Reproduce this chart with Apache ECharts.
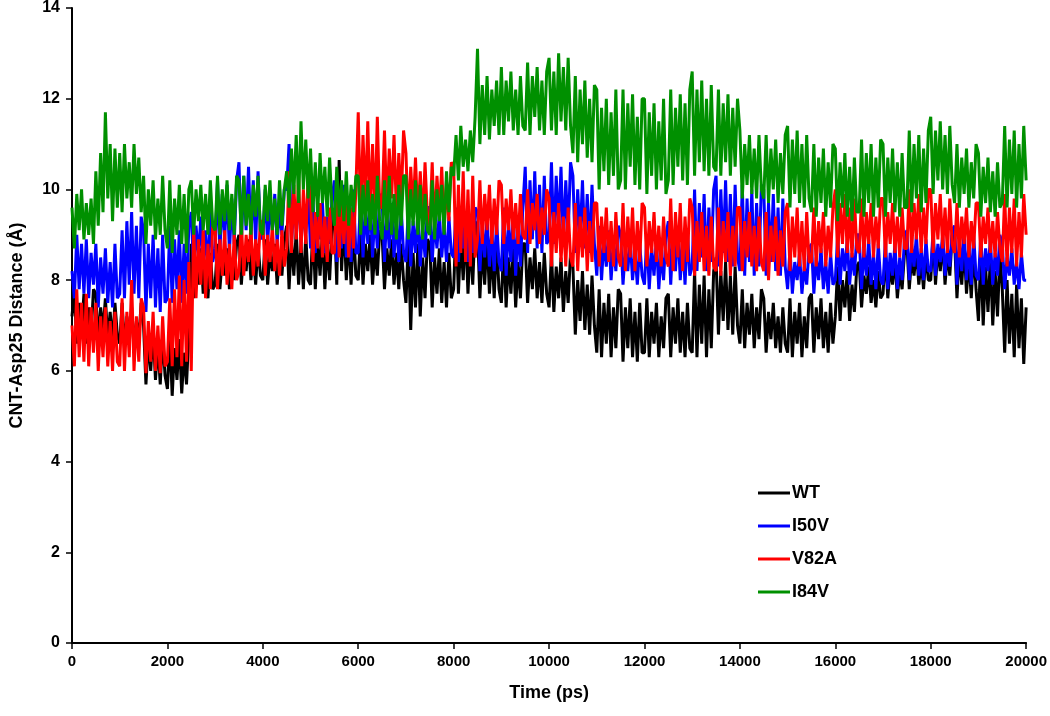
<!DOCTYPE html>
<html>
<head>
<meta charset="utf-8">
<script src="https://cdn.jsdelivr.net/npm/echarts@6/dist/echarts.min.js"></script>
<style>html,body{margin:0;padding:0;background:#fff}#c{width:1050px;height:716px}</style>
</head>
<body>
<div id="c"></div>
<script>
// time step of samples (ps)
const timeStep = 50;
const xTicks = [0,2000,4000,6000,8000,10000,12000,14000,16000,18000,20000];
const yTicks = [0,2,4,6,8,10,12,14];
const seriesNames = ["WT","I50V","V82A","I84V"];

const WT = [
7.2,7.8,6.6,7.5,6.9,7.7,6.6,7.4,6.8,7.8, 7.7,6.6,7.4,6.9,7.6,6.7,7.3,6.6,7.5,6.8,
6.6,7.5,6.5,7.2,6.8,7.4,6.5,7.1,6.7,7.5, 7.0,5.7,6.7,6.0,6.9,5.8,6.6,5.7,6.8,5.9,
5.6,6.8,5.45,6.5,5.8,6.7,5.5,6.4,5.7,6.8, 8.8,7.6,8.5,7.9,8.7,7.7,8.4,7.6,8.6,7.8,
7.9,8.8,7.8,8.5,8.1,8.7,7.8,8.4,8.0,8.8, 9.0,7.9,8.7,8.2,8.9,8.0,8.6,7.9,8.8,8.1,
8.0,8.9,7.9,8.6,8.2,8.8,7.9,8.5,8.1,8.9, 9.2,7.8,8.9,8.1,9.1,7.9,8.8,7.8,9.0,8.0,
7.9,9.2,7.8,8.9,8.1,9.1,7.8,8.8,8.0,9.2, 9.4,7.9,10.65,8.2,9.3,8.0,9.0,7.9,9.2,8.1,
8.0,9.1,7.9,8.8,8.2,9.0,7.9,8.7,8.1,9.1, 9.0,7.8,8.7,8.1,8.9,7.9,8.6,7.8,8.8,8.0,
7.5,8.9,6.9,8.6,7.4,8.8,7.2,8.5,7.6,8.9, 8.8,7.4,8.5,7.7,8.7,7.5,8.4,7.4,8.6,7.6,
7.8,9.3,7.7,9.0,8.0,9.2,7.7,8.9,7.9,9.3, 9.1,7.6,8.8,7.9,9.0,7.7,8.7,7.6,8.9,7.8,
7.5,8.8,7.4,8.5,7.7,8.7,7.4,8.4,7.6,8.8, 8.8,7.5,8.5,7.8,8.7,7.6,8.4,7.5,8.6,7.7,
7.4,8.6,7.3,8.3,7.6,8.5,7.3,8.2,7.5,8.6, 8.3,6.8,8.0,7.1,8.2,6.9,7.9,6.8,8.1,7.0,
6.4,7.8,6.3,7.5,6.6,7.7,6.3,7.4,6.5,7.8, 7.7,6.2,7.4,6.5,7.6,6.3,7.3,6.2,7.5,6.4,
6.4,7.6,6.3,7.3,6.6,7.5,6.3,7.2,6.5,7.6, 7.7,6.3,7.4,6.6,7.6,6.4,7.3,6.3,7.5,6.5,
6.4,8.2,6.3,7.9,6.6,8.1,6.3,7.8,6.5,8.2, 8.5,6.8,8.2,7.1,8.4,6.9,8.1,6.8,8.3,7.0,
6.6,7.8,6.5,7.5,6.8,7.7,6.5,7.4,6.7,7.8, 7.6,6.4,7.3,6.7,7.5,6.5,7.2,6.4,7.4,6.6,
6.4,7.6,6.3,7.3,6.6,7.5,6.3,7.2,6.5,7.6, 7.7,6.4,7.4,6.7,7.6,6.5,7.3,6.4,7.5,6.6,
7.2,8.3,7.1,8.0,7.4,8.2,7.1,7.9,7.3,8.3, 8.4,7.4,8.1,7.7,8.3,7.5,8.0,7.4,8.2,7.6,
7.7,8.6,7.6,8.3,7.9,8.5,7.6,8.2,7.8,8.6, 8.8,7.8,8.5,8.1,8.7,7.9,8.4,7.8,8.6,8.0,
8.0,9.0,7.9,8.7,8.2,8.9,7.9,8.6,8.1,9.0, 8.9,7.6,8.6,7.9,8.8,7.7,8.5,7.6,8.7,7.8,
7.1,8.6,7.0,8.3,7.3,8.5,7.0,8.2,7.2,8.6, 7.8,6.4,8.0,6.6,7.7,6.3,7.9,6.5,7.6,6.15,
7.4];

const I50V = [
8.2,7.6,9.0,7.8,8.8,7.7,8.9,7.6,8.6,7.9, 8.8,7.4,8.5,7.7,8.7,7.5,8.4,7.4,8.8,7.6,
7.7,9.1,7.6,9.3,7.9,9.5,7.7,9.2,7.6,9.4, 9.1,7.3,8.8,7.6,9.0,7.4,8.7,7.3,9.0,7.5,
7.6,9.2,7.5,8.9,7.8,9.1,7.5,8.8,7.7,9.2, 9.5,8.2,9.2,8.5,9.4,8.3,9.1,8.2,9.5,8.4,
8.7,10.2,8.6,9.9,8.9,10.1,8.6,9.8,8.8,10.2, 10.6,8.8,10.3,9.1,10.5,8.9,10.2,8.8,10.4,9.0,
8.9,10.0,8.8,9.7,9.1,9.9,8.8,9.6,9.0,10.0, 10.0,11.0,8.8,9.7,9.1,9.9,8.8,9.6,9.0,10.0,
8.7,9.8,8.6,9.5,8.9,9.7,8.6,9.4,8.8,9.8, 10.2,8.4,9.9,8.7,10.1,8.5,9.8,8.4,10.0,8.6,
8.6,9.9,8.5,9.6,8.8,9.8,8.5,9.5,8.7,9.9, 9.8,8.4,9.5,8.7,9.7,8.5,9.4,8.4,9.6,8.6,
8.4,9.6,8.3,9.3,8.6,9.5,8.3,9.2,8.5,9.6, 9.6,8.4,9.3,8.7,9.5,8.5,9.2,8.4,9.4,8.6,
8.5,9.6,8.4,9.3,8.7,9.5,8.4,9.2,8.6,9.6, 9.5,8.2,9.2,8.5,9.4,8.3,9.1,8.2,9.3,8.4,
8.2,9.6,8.1,9.3,8.4,9.5,8.1,9.2,8.3,9.6, 10.5,8.6,10.2,8.9,10.4,8.7,10.1,8.6,10.3,8.8,
8.9,10.6,8.8,10.3,9.1,10.5,8.8,10.2,9.0,10.6, 10.3,8.6,10.0,8.9,10.2,8.7,9.9,8.6,10.1,8.8,
8.1,9.2,8.0,8.9,8.3,9.1,8.0,8.8,8.2,9.2, 9.0,7.9,8.7,8.2,8.9,8.0,8.6,7.9,8.8,8.1,
7.9,9.0,7.8,8.7,8.1,8.9,7.8,8.6,8.0,9.0, 9.3,7.9,9.0,8.2,9.2,8.0,8.9,7.9,9.1,8.1,
8.3,10.0,8.2,9.7,8.5,9.9,8.2,9.6,8.4,10.0, 10.3,8.3,10.0,8.6,10.2,8.4,9.9,8.3,10.1,8.5,
8.2,10.1,8.1,9.8,8.4,10.0,8.1,9.7,8.3,10.1, 10.0,8.1,9.7,8.4,9.9,8.2,9.6,8.1,9.8,8.3,
7.8,8.7,7.7,8.4,8.0,8.6,7.7,8.3,7.9,8.7, 8.8,7.7,8.5,8.0,8.7,7.8,8.4,7.7,8.6,7.9,
8.0,9.0,7.9,8.7,8.2,8.9,7.9,8.6,8.1,9.0, 9.0,7.8,8.7,8.1,8.9,7.9,8.6,7.8,8.8,8.0,
7.9,8.9,7.8,8.6,8.1,8.8,7.8,8.5,8.0,8.9, 9.1,8.0,8.8,8.3,9.0,8.1,8.7,8.0,8.9,8.2,
8.2,9.1,8.1,8.8,8.4,9.0,8.1,8.7,8.3,9.1, 9.2,7.9,8.9,8.2,9.1,8.0,8.8,7.9,9.0,8.1,
8.0,9.0,7.9,8.7,8.2,8.9,7.9,8.6,8.1,9.0, 8.8,7.8,8.5,8.1,8.7,7.9,8.4,7.8,8.6,8.0,
8.0];

const V82A = [
7.0,6.1,7.8,6.3,7.5,6.2,7.7,6.1,7.4,6.4, 7.5,6.0,7.2,6.3,7.4,6.1,7.1,6.0,7.3,6.2,
6.1,7.6,6.0,7.3,6.3,8.0,6.0,7.2,6.2,7.6, 7.4,5.95,7.1,6.2,7.3,6.0,7.0,5.95,7.2,6.1,
6.2,7.6,6.1,7.8,6.3,8.1,6.1,8.0,6.2,8.4, 6.0,9.2,7.6,8.9,7.9,9.1,7.6,8.8,7.8,9.2,
9.2,7.8,8.9,8.1,9.1,7.9,8.8,7.8,9.0,8.0, 8.2,9.3,8.1,9.0,8.4,9.2,8.1,8.9,8.3,9.3,
9.3,8.1,9.0,8.4,9.2,8.2,8.9,8.1,9.1,8.3, 8.7,10.4,8.6,10.1,8.9,10.3,8.6,10.0,8.8,10.4,
9.8,8.4,9.5,8.7,9.7,8.5,9.4,8.4,9.6,8.6, 8.6,10.0,8.5,9.7,8.8,9.9,8.5,9.6,8.7,10.0,
11.7,9.4,11.2,9.7,11.5,9.5,11.0,9.4,11.6,9.6, 9.6,11.3,9.5,10.9,9.8,11.2,9.5,10.8,9.7,11.3,
10.8,9.2,10.5,9.5,10.7,9.3,10.4,9.2,10.6,9.4, 9.2,10.6,9.1,10.3,9.4,10.5,9.1,10.2,9.3,10.6,
10.5,8.3,10.1,8.6,10.4,8.4,10.0,8.3,10.3,8.5, 8.9,10.2,8.8,9.9,9.1,10.1,8.8,9.8,9.0,10.2,
10.1,8.8,9.8,9.1,10.0,8.9,9.7,8.8,9.9,9.0, 8.9,10.0,8.8,9.7,9.1,9.9,8.8,9.6,9.0,10.0,
9.8,8.3,9.5,8.6,9.7,8.4,9.4,8.3,9.6,8.5, 8.3,9.7,8.2,9.4,8.5,9.6,8.2,9.3,8.4,9.7,
9.7,8.3,9.4,8.6,9.6,8.4,9.3,8.3,9.5,8.5, 8.3,9.7,8.2,9.4,8.5,9.6,8.2,9.3,8.4,9.7,
9.6,8.3,9.3,8.6,9.5,8.4,9.2,8.3,9.4,8.5, 8.3,9.8,8.2,9.5,8.5,9.7,8.2,9.4,8.4,9.8,
9.6,8.1,9.3,8.4,9.5,8.2,9.2,8.1,9.4,8.3, 8.2,9.6,8.1,9.3,8.4,9.5,8.1,9.2,8.3,9.6,
9.6,8.2,9.3,8.5,9.5,8.3,9.2,8.2,9.4,8.4, 8.2,9.5,8.0,9.2,8.4,9.4,8.1,9.1,8.3,9.5,
9.7,8.2,9.4,8.5,9.6,8.3,9.3,8.2,9.5,8.4, 8.4,9.6,8.3,9.3,8.6,9.5,8.3,9.2,8.5,9.6,
10.0,8.5,9.7,8.8,9.9,8.6,9.6,8.5,9.8,8.7, 8.6,9.8,8.5,9.5,8.8,9.7,8.5,9.4,8.7,9.8,
9.8,8.5,9.5,8.8,9.7,8.6,9.4,8.5,9.6,8.7, 8.7,10.0,8.6,9.7,8.9,9.9,8.6,9.6,8.8,10.0,
10.0,8.6,9.7,8.9,9.9,8.7,9.6,8.6,9.8,8.8, 8.6,9.7,8.5,9.4,8.8,9.6,8.5,9.3,8.7,9.7,
9.7,8.5,9.4,8.8,9.6,8.6,9.3,8.5,9.5,8.7, 8.4,9.9,8.3,9.6,8.6,9.8,8.3,9.5,8.5,9.9,
9.0];

const I84V = [
9.6,8.7,9.9,9.1,10.0,8.9,9.7,9.0,9.8,8.8, 10.4,9.2,10.8,9.5,11.7,9.8,11.0,9.3,10.9,9.6,
10.8,9.5,11.0,9.8,10.6,9.6,11.0,9.9,10.7,9.5, 10.3,8.8,10.0,9.2,10.2,8.9,9.8,9.0,10.3,9.1,
8.7,10.2,8.6,9.8,9.0,10.1,8.8,9.9,8.6,10.0, 10.2,9.0,10.0,9.3,10.1,9.1,9.9,9.0,10.2,9.2,
9.1,10.3,9.0,10.0,9.3,10.2,9.1,9.9,9.0,10.3, 10.2,9.0,10.3,9.2,9.9,9.0,10.1,9.4,10.3,9.1,
9.0,10.1,9.3,10.2,9.1,9.8,9.0,10.2,9.2,10.0, 10.4,9.6,10.9,9.9,11.2,9.7,11.5,10.0,11.1,9.8,
10.9,9.5,10.6,9.4,10.8,9.7,10.5,9.4,10.7,9.6, 9.2,10.5,9.4,10.2,9.3,10.4,9.2,10.1,9.5,10.3,
10.3,9.0,10.1,9.2,10.2,9.1,9.9,9.0,10.3,9.3, 8.9,10.2,9.1,10.3,9.0,9.9,8.9,10.1,9.2,10.3,
10.3,8.9,10.0,9.2,10.2,9.0,10.1,8.9,9.9,9.1, 9.0,10.2,8.9,10.0,9.3,10.1,9.0,10.4,9.5,10.5,
10.3,11.2,10.2,11.4,10.5,11.1,10.4,11.3,10.6,11.6, 13.1,11.0,12.3,11.2,12.5,11.1,12.2,11.4,12.4,11.2,
12.7,11.2,12.4,11.5,12.6,11.3,12.2,11.2,12.5,11.4, 11.3,12.8,11.2,12.5,11.6,12.7,11.3,12.4,11.2,12.6,
12.9,11.3,12.6,11.2,13.0,11.5,12.7,11.3,12.9,11.4, 10.8,12.5,10.6,12.2,11.0,12.4,10.7,12.0,10.6,12.3,
12.2,10.0,11.8,10.4,12.0,10.1,11.7,10.3,12.2,10.0, 10.2,12.2,10.0,11.9,10.5,12.1,10.1,11.6,10.0,12.0,
12.0,9.9,11.7,10.3,11.9,10.0,11.5,10.2,12.0,9.9, 10.2,12.2,10.1,11.8,10.5,12.1,10.2,11.9,10.1,12.2,
12.6,10.3,12.2,10.6,12.4,10.4,12.0,10.3,12.3,10.5, 10.4,12.2,10.3,11.9,10.6,12.1,10.3,11.8,10.5,12.0,
11.3,9.8,11.0,10.1,11.2,9.9,10.9,9.8,11.2,10.0, 9.8,11.2,9.7,10.9,10.0,11.1,9.7,10.8,9.9,11.2,
11.4,9.6,11.1,9.9,11.3,9.7,11.0,9.6,11.2,9.8, 9.5,11.0,9.4,10.7,9.7,10.9,9.4,10.6,9.6,11.0,
10.9,9.3,10.6,9.6,10.8,9.4,10.5,9.3,10.7,9.5, 9.5,11.1,9.4,10.8,9.7,11.0,9.4,10.7,9.6,11.1,
11.0,9.4,10.7,9.7,10.9,9.5,10.6,9.4,10.8,9.6, 9.6,11.3,9.5,11.0,9.8,11.2,9.5,10.9,9.7,11.3,
11.6,9.9,11.3,10.2,11.5,10.0,11.2,9.9,11.4,10.1, 9.7,11.0,9.6,10.7,9.9,10.9,9.6,10.6,9.8,11.0,
10.8,9.4,10.5,9.7,10.7,9.5,10.4,9.4,10.6,9.6, 9.7,11.4,9.6,11.1,9.9,11.3,9.6,11.0,9.8,11.4,
10.2];

const colors = ["#000000","#0000ff","#ff0000","#009000"];
const allData = [WT, I50V, V82A, I84V];

function pairs(arr){ return arr.map((v,i)=>[i*timeStep, v]); }

const font = "'Liberation Sans', Arial, sans-serif";
const chart = echarts.init(document.getElementById('c'), null, {renderer:'canvas'});
chart.setOption({
  animation:false,
  backgroundColor:'#ffffff',
  grid:{left:70, right:23, top:8, bottom:73, containLabel:false},
  legend:{
    orient:'vertical', left:753, top:479, itemGap:15,
    itemWidth:32, itemHeight:3, icon:'rect',
    data:seriesNames,
    textStyle:{fontFamily:font, fontWeight:'bold', fontSize:18, color:'#000', padding:[0,0,0,-3]}
  },
  xAxis:{
    type:'value', min:0, max:20000, interval:2000,
    name:'Time (ps)', nameLocation:'middle', nameGap:41,
    nameTextStyle:{fontFamily:font, fontWeight:'bold', fontSize:18, color:'#000'},
    axisLine:{show:true, lineStyle:{color:'#000', width:2}},
    axisTick:{show:true, inside:false, length:6, lineStyle:{color:'#000', width:1.5}},
    axisLabel:{fontFamily:font, fontWeight:'bold', fontSize:15, color:'#000', margin:11,
      formatter:(v)=>String(v)},
    splitLine:{show:false}
  },
  yAxis:{
    type:'value', min:0, max:14, interval:2,
    name:'CNT-Asp25 Distance (Å)', nameLocation:'middle', nameGap:46, nameRotate:90,
    nameTextStyle:{fontFamily:font, fontWeight:'bold', fontSize:18, color:'#000'},
    axisLine:{show:true, lineStyle:{color:'#000', width:2}},
    axisTick:{show:true, inside:false, length:6, lineStyle:{color:'#000', width:1.5}},
    axisLabel:{fontFamily:font, fontWeight:'bold', fontSize:16, color:'#000', margin:12},
    splitLine:{show:false}
  },
  series: seriesNames.map((n,k)=>({
    name:n, type:'line', data:pairs(allData[k]), showSymbol:false, symbol:'none',
    sampling:null, color:colors[k],
    lineStyle:{width:3, color:colors[k]}, z:2+k
  }))
});
</script>
</body>
</html>
